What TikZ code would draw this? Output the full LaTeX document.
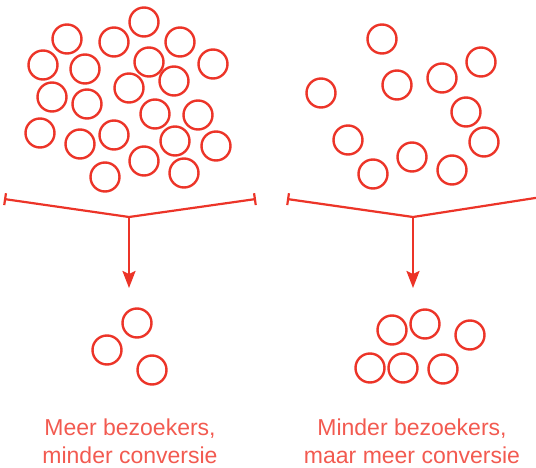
\documentclass[tikz,border=0pt]{standalone}
\usepackage{fontspec}
\setmainfont{Liberation Sans}
\usetikzlibrary{arrows.meta}
\definecolor{visred}{RGB}{236,52,40}
\definecolor{textred}{RGB}{242,90,80}
\tikzset{visitor/.style={draw=visred,line width=2.4pt},
         funnel/.style={draw=visred,line width=2.2pt},
         caption/.style={text=textred,font=\fontsize{23}{28}\selectfont,align=center}}

\begin{document}
\begin{tikzpicture}[x=1pt,y=-1pt]
\useasboundingbox (0,0) rectangle (536,468);

% left: many visitors
\foreach \x/\y in {144/22,67/39,114/42,180/42,43/65,85/69,149/62,213/64,174/81,129/88,
                   52/97,87/104,155/114,198/115,40/133,80/144,114/135,175/141,216/146,
                   144/161,105/177,184/173}
  \draw[visitor] (\x,\y) circle (14.5pt);

% right: fewer visitors
\foreach \x/\y in {382/39,481/62,442/78,397/85,321/93,466/112,348/140,484/142,412/157,
                   373/174,452/170}
  \draw[visitor] (\x,\y) circle (14.5pt);

% funnels
\coordinate (lend1) at (4,199);
\coordinate (lend2) at (256,199);
\coordinate (lmid) at (129,217);
\coordinate (ltip) at (129,288);
\draw[funnel,{Bar[width=12pt]}-{Bar[width=12pt]}] (lend1) -- (lmid) -- (lend2);
\draw[funnel,-{Stealth[length=17pt,width=13pt,inset=3pt]}] (lmid) -- (ltip);

\coordinate (rend1) at (287,199);
\coordinate (rend2) at (548,196);
\coordinate (rmid) at (413,217);
\coordinate (rtip) at (413,288);
\draw[funnel,{Bar[width=12pt]}-] (rend1) -- (rmid) -- (rend2);
\draw[funnel,-{Stealth[length=17pt,width=13pt,inset=3pt]}] (rmid) -- (rtip);

% results
\foreach \x/\y in {137/323,107/350,152/370}
  \draw[visitor] (\x,\y) circle (14.5pt);
\foreach \x/\y in {392/330,425/324,470/335,370/368,403/368,443/369}
  \draw[visitor] (\x,\y) circle (14.5pt);

\node[caption,anchor=base] (lcap) at (130,463) {Meer bezoekers,\\minder conversie};
\node[caption,anchor=base] (rcap) at (412,463) {Minder bezoekers,\\maar meer conversie};
\end{tikzpicture}
\end{document}
